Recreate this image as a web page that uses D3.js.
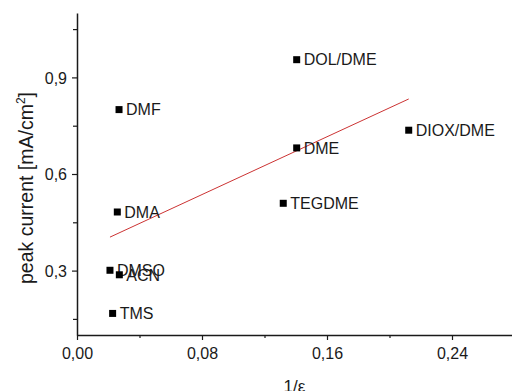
<!DOCTYPE html>
<html>
<head>
<meta charset="utf-8">
<script src="https://cdn.jsdelivr.net/npm/d3@7"></script>
<style>
  body { margin: 0; background: #fff; }
  svg text { font-family: Arial, "Liberation Sans", sans-serif; fill: #1a1a1a; }
</style>
</head>
<body>
<div class="chart"></div>
<script>
// solventes: 1/eps vs corrente de pico
const solvents = ["DMF", "DOL/DME", "DME", "DIOX/DME", "TEGDME", "DMA", "DMSO", "ACN", "TMS"];
const invEps = [0.0269, 0.1406, 0.1406, 0.2123, 0.1320, 0.0258, 0.0211, 0.0271, 0.0228];
const peakCurrent = [0.800, 0.955, 0.681, 0.736, 0.509, 0.482, 0.301, 0.287, 0.167];

// reta ajustada (pontos extremos)
const fitX = [0.0211, 0.2123];
const fitY = [0.404, 0.833];

const xMajor = [0.00, 0.08, 0.16, 0.24];
const xMinor = [0.04, 0.12, 0.20];
const yMajor = [0.3, 0.6, 0.9];
const yMinor = [0.15, 0.45, 0.75, 1.05];

const width = 512;
const height = 391;
const plotLeft = 77, plotRight = 512, plotTop = 13, plotBottom = 335;

const svg = d3.select("div.chart")
    .append("svg")
    .attr("width", width)
    .attr("height", height);

const x = d3.scaleLinear().domain([0, 0.2784]).range([plotLeft, plotRight]);
const y = d3.scaleLinear().domain([0.1, 1.1]).range([plotBottom, plotTop]);

const fmt = function(digits) {
    return function(d) { return d3.format("." + digits + "f")(d).replace(".", ","); };
};

// eixo x
const xAxis = svg.append("g")
    .attr("transform", "translate(0," + plotBottom + ")")
    .call(d3.axisBottom(x).tickValues(xMajor).tickSize(5).tickSizeOuter(0).tickFormat(fmt(2)));
xAxis.append("g")
    .call(d3.axisBottom(x).tickValues(xMinor).tickSize(3).tickFormat(""))
    .select(".domain").remove();

// eixo y
const yAxis = svg.append("g")
    .attr("transform", "translate(" + plotLeft + ",0)")
    .call(d3.axisLeft(y).tickValues(yMajor).tickSize(5).tickSizeOuter(0).tickFormat(fmt(1)));
yAxis.append("g")
    .call(d3.axisLeft(y).tickValues(yMinor).tickSize(4).tickFormat(""))
    .select(".domain").remove();

svg.selectAll(".domain").attr("stroke", "#1a1a1a").attr("stroke-width", 1.5);
svg.selectAll(".tick line").attr("stroke", "#1a1a1a").attr("stroke-width", 1.2);
xAxis.selectAll(".tick text")
    .attr("font-size", 16)
    .attr("dy", null)
    .attr("y", 24);
yAxis.selectAll(".tick text")
    .attr("font-size", 16)
    .attr("x", -10)
    .attr("dy", "0.35em");

// titulos dos eixos
svg.append("text")
    .attr("x", (plotLeft + plotRight) / 2)
    .attr("y", 392)
    .attr("text-anchor", "middle")
    .attr("font-size", 17)
    .text("1/ε");

const yTitle = svg.append("text")
    .attr("transform", "translate(33,188) rotate(-90)")
    .attr("text-anchor", "middle")
    .attr("font-size", 19.5);
yTitle.append("tspan").text("peak current [mA/cm");
yTitle.append("tspan").attr("font-size", 12).attr("dy", -8).text("2");
yTitle.append("tspan").attr("dy", 8).text("]");

// reta
svg.append("line")
    .attr("x1", x(fitX[0]))
    .attr("y1", y(fitY[0]))
    .attr("x2", x(fitX[1]))
    .attr("y2", y(fitY[1]))
    .attr("stroke", "#cc3333")
    .attr("stroke-width", 1);

// pontos
const pts = svg.append("g")
    .selectAll("g")
    .data(solvents)
    .enter()
    .append("g")
    .attr("transform", function(d, i) { return "translate(" + x(invEps[i]) + "," + y(peakCurrent[i]) + ")"; });

pts.append("rect")
    .attr("x", -3.5)
    .attr("y", -3.5)
    .attr("width", 7)
    .attr("height", 7)
    .attr("fill", "#000");

pts.append("text")
    .attr("x", 7)
    .attr("dy", "0.36em")
    .attr("font-size", 16)
    .text(function(d) { return d; });
</script>
</body>
</html>
